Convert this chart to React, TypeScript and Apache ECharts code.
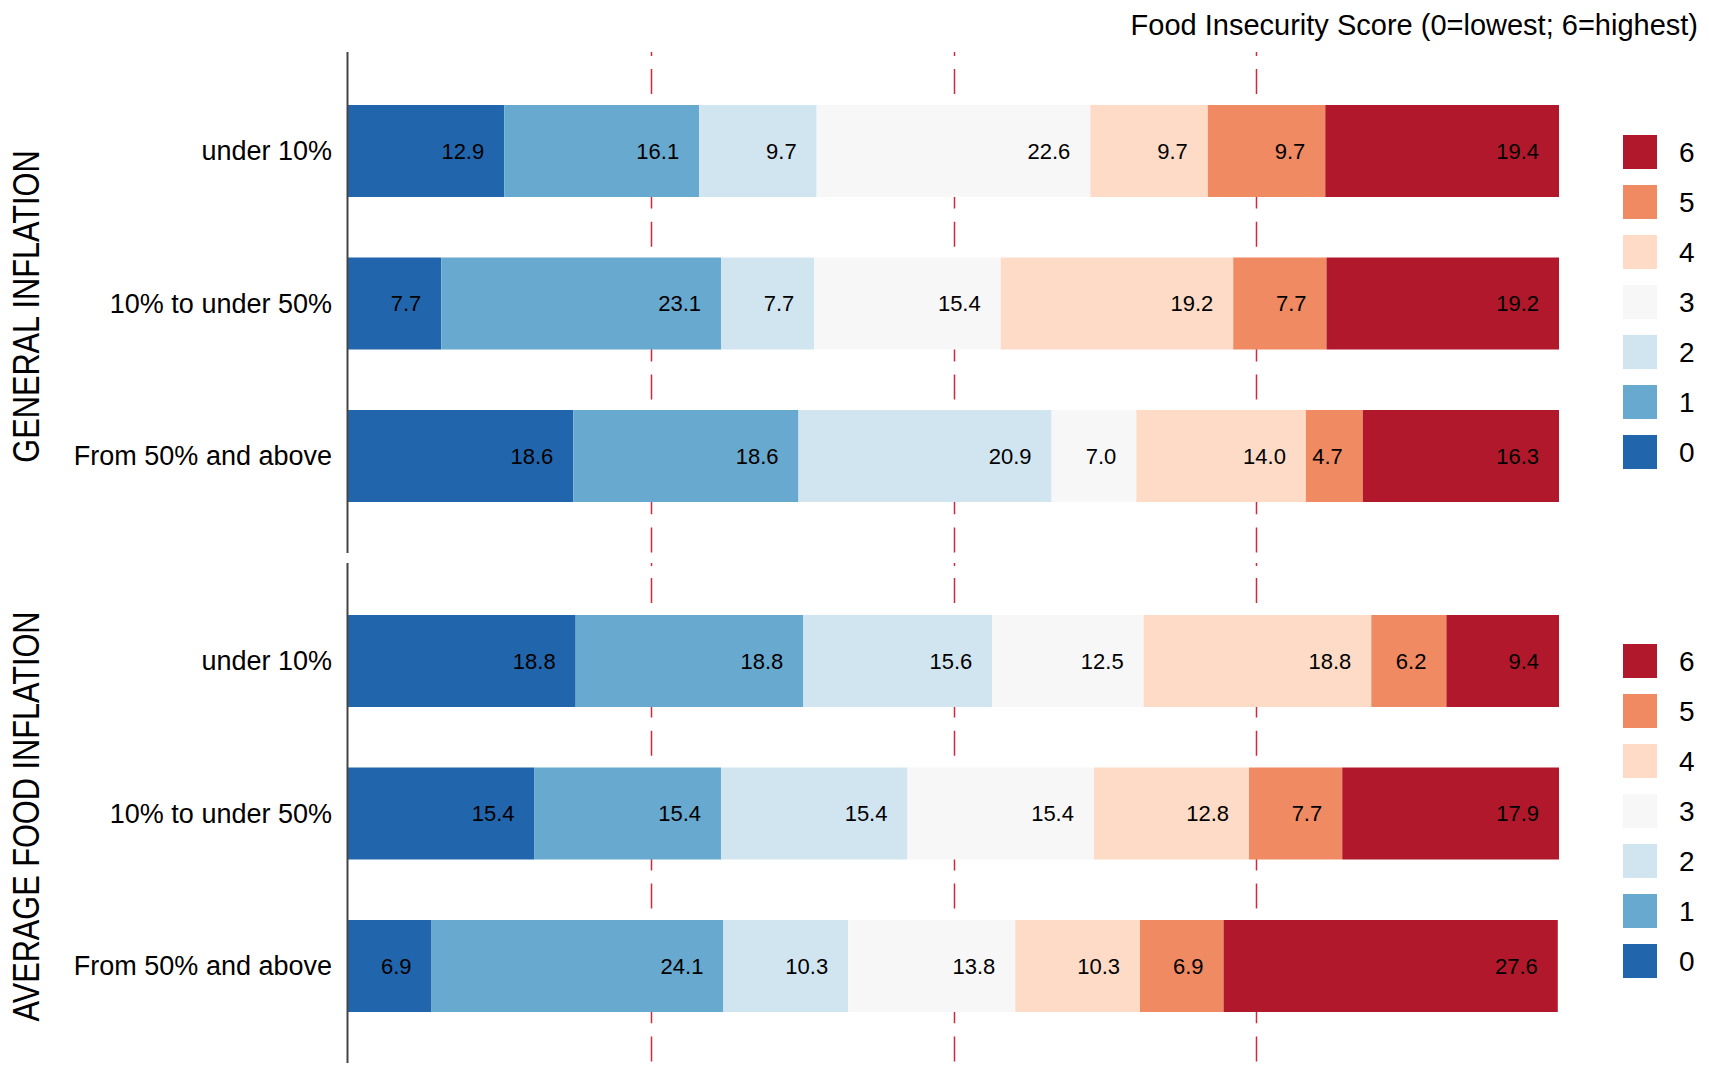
import React, { useEffect, useRef } from "react";
import * as echarts from "echarts";

const TITLE = "Food Insecurity Score (0=lowest; 6=highest)";
const CATEGORIES = ["under 10%", "10% to under 50%", "From 50% and above"];
const SCORES = ["0", "1", "2", "3", "4", "5", "6"];
const SCORE_COLORS = ["#2166ac", "#67a9cf", "#d1e5f0", "#f7f7f7", "#fddbc7", "#ef8a62", "#b2182b"];
const PANEL_NAMES = ["GENERAL INFLATION", "AVERAGE FOOD INFLATION"];
// rows = categories, columns = score 0..6 (percent)
const GENERAL_INFLATION = [
  [12.9, 16.1, 9.7, 22.6, 9.7, 9.7, 19.4],
  [7.7, 23.1, 7.7, 15.4, 19.2, 7.7, 19.2],
  [18.6, 18.6, 20.9, 7.0, 14.0, 4.7, 16.3],
];
const FOOD_INFLATION = [
  [18.8, 18.8, 15.6, 12.5, 18.8, 6.2, 9.4],
  [15.4, 15.4, 15.4, 15.4, 12.8, 7.7, 17.9],
  [6.9, 24.1, 10.3, 13.8, 10.3, 6.9, 27.6],
];
const REF_LINES = [25, 50, 75];

const REGULAR = "'Liberation Sans', Arial, sans-serif";

export default function App() {
  const ref = useRef<HTMLDivElement>(null);
  useEffect(() => {
    const chart = echarts.init(ref.current!, null, { renderer: "svg" });
    const panels = [GENERAL_INFLATION, FOOD_INFLATION];
    const gridTops = [74.75, 584.75];
    const gridH = 457.5;
    const panelSpans = [
      [52, 553],
      [563, 1063],
    ];
    // first partial dash and start of the regular dash pattern per panel
    const firstDash = [
      [52, 56],
      [563, 566],
    ];
    const dashStart = [69, 578];

    const series: any[] = [];
    panels.forEach((rows, p) => {
      SCORES.forEach((s, k) => {
        series.push({
          type: "bar",
          name: s,
          stack: "panel" + p,
          xAxisIndex: p,
          yAxisIndex: p,
          barWidth: "60.3%",
          z: 3,
          itemStyle: { color: SCORE_COLORS[k] },
          label: {
            show: true,
            position: "insideRight",
            distance: 20,
            color: "#000",
            fontFamily: REGULAR,
            fontSize: 22,
            formatter: (pr: any) => Number(pr.value).toFixed(1),
          },
          emphasis: { disabled: true },
          data: rows.map((r) => r[k]),
        });
      });
    });

    const legendData = SCORES.slice().reverse();
    const legendBase = {
      orient: "vertical",
      left: 1618,
      itemWidth: 34,
      itemHeight: 34,
      itemGap: 16,
      icon: "rect",
      selectedMode: false,
      data: legendData,
      textStyle: { fontFamily: REGULAR, fontSize: 28, color: "#000", padding: [0, 0, 0, 17] },
    };

    chart.setOption({
      animation: false,
      backgroundColor: "#fff",
      grid: gridTops.map((t) => ({
        left: 348,
        width: 1211,
        top: t,
        height: gridH,
        containLabel: false,
        outerBoundsMode: "none",
      })),
      xAxis: gridTops.map((_, i) => ({
        type: "value",
        gridIndex: i,
        min: 0,
        max: 100,
        show: false,
        splitLine: { show: false },
      })),
      yAxis: gridTops.map((_, i) => ({
        type: "category",
        gridIndex: i,
        inverse: true,
        data: CATEGORIES,
        axisLine: { show: false },
        axisTick: { show: false },
        axisLabel: { color: "#000", fontFamily: REGULAR, fontSize: 27, margin: 16 },
      })),
      legend: [
        { ...legendBase, top: 130 },
        { ...legendBase, top: 639 },
      ],
      series,
    });

    const graphics: any[] = [
      {
        type: "text",
        right: 11,
        top: 10,
        style: { text: TITLE, fill: "#000", font: `29px ${REGULAR}` },
      },
    ];
    const lineStyle = { stroke: "#d0293f", lineWidth: 1.5 };
    panelSpans.forEach((span, p) => {
      const x0 = chart.convertToPixel({ xAxisIndex: p }, 0) as number;
      // panel name, rotated and horizontally condensed
      graphics.push({
        type: "text",
        x: 26,
        y: gridTops[p] + gridH / 2 + 3,
        rotation: Math.PI / 2,
        scaleX: 0.83,
        style: {
          text: PANEL_NAMES[p],
          fill: "#000",
          font: `37px ${REGULAR}`,
          align: "center",
          verticalAlign: "middle",
        },
      });
      graphics.push({
        type: "line",
        z: 5,
        shape: { x1: x0 - 0.5, y1: span[0], x2: x0 - 0.5, y2: span[1] },
        style: { stroke: "#444", lineWidth: 2 },
      });
      REF_LINES.forEach((v) => {
        const x = Math.round(chart.convertToPixel({ xAxisIndex: p }, v) as number) + 0.5;
        graphics.push({
          type: "line",
          z: 0,
          shape: { x1: x, y1: firstDash[p][0], x2: x, y2: firstDash[p][1] },
          style: { ...lineStyle },
        });
        graphics.push({
          type: "line",
          z: 0,
          shape: { x1: x, y1: dashStart[p], x2: x, y2: span[1] },
          style: { ...lineStyle, lineDash: [25, 13.2] },
        });
      });
    });
    chart.setOption({ graphic: graphics });

    return () => chart.dispose();
  }, []);
  return (
    <div
      ref={ref}
      style={{ position: "fixed", left: 0, top: 0, width: 1709, height: 1067, background: "#fff" }}
    />
  );
}
